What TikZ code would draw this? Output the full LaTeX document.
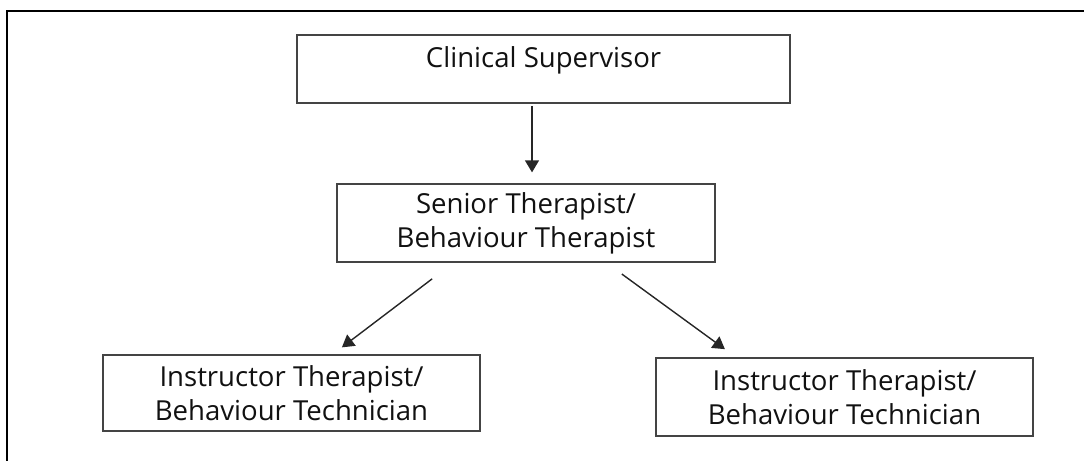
\documentclass[tikz,border=0pt]{standalone}
\usepackage{fontspec}
\setsansfont{Open Sans}
\usetikzlibrary{arrows.meta,positioning,calc}
\definecolor{ink}{HTML}{111111}
\definecolor{edge}{HTML}{444444}

\begin{document}
\begin{tikzpicture}[
    >={Triangle[length=0.3cm, width=0.35cm]},
    every node/.style={font=\sffamily\fontsize{19.6}{24.2}\selectfont, text=ink},
    box/.style={draw=edge, fill=white, line width=1.2pt, minimum width=9.425cm,
        minimum height=1.95cm, inner sep=4pt, align=center},
    link/.style={->, line width=1pt, black!85},
]

% Page and frame
\useasboundingbox (0,0) rectangle (27.1,-11.525);
\clip (0,0) rectangle (27.1,-11.525);
\draw[line width=1.5pt, black] (0.175,-0.275) rectangle (27.6,-12.2);

% Top
\node[box, minimum width=12.325cm, minimum height=1.7cm,
    text height=0.5cm, text depth=0.55cm] (sup) at (13.59,-1.725)
    {Clinical Supervisor};

% Middle
\node[box, minimum width=9.45cm] (senior) at (13.15,-5.575)
    {Senior Therapist/\\Behaviour Therapist};

% Bottom row
\node[box, minimum height=1.9cm] (instrL) at (7.2875,-9.825)
    {Instructor Therapist/\\Behaviour Technician};
\node[box] (instrR) at (21.1125,-9.925)
    {Instructor Therapist/\\Behaviour Technician};

% Arrows
\coordinate (drop) at (13.3,0);
\draw[link] ([yshift=-0.05cm]sup.south -| drop)
    -- ([yshift=0.27cm]senior.north -| drop);
\draw[link] ([xshift=2.4cm, yshift=-0.4cm]senior.south west)
    -- ([xshift=1.26cm, yshift=0.17cm]instrL.north);
\draw[link] ([xshift=-2.35cm, yshift=-0.28cm]senior.south east)
    -- ([xshift=-2.99cm, yshift=0.2cm]instrR.north);

\end{tikzpicture}
\end{document}
